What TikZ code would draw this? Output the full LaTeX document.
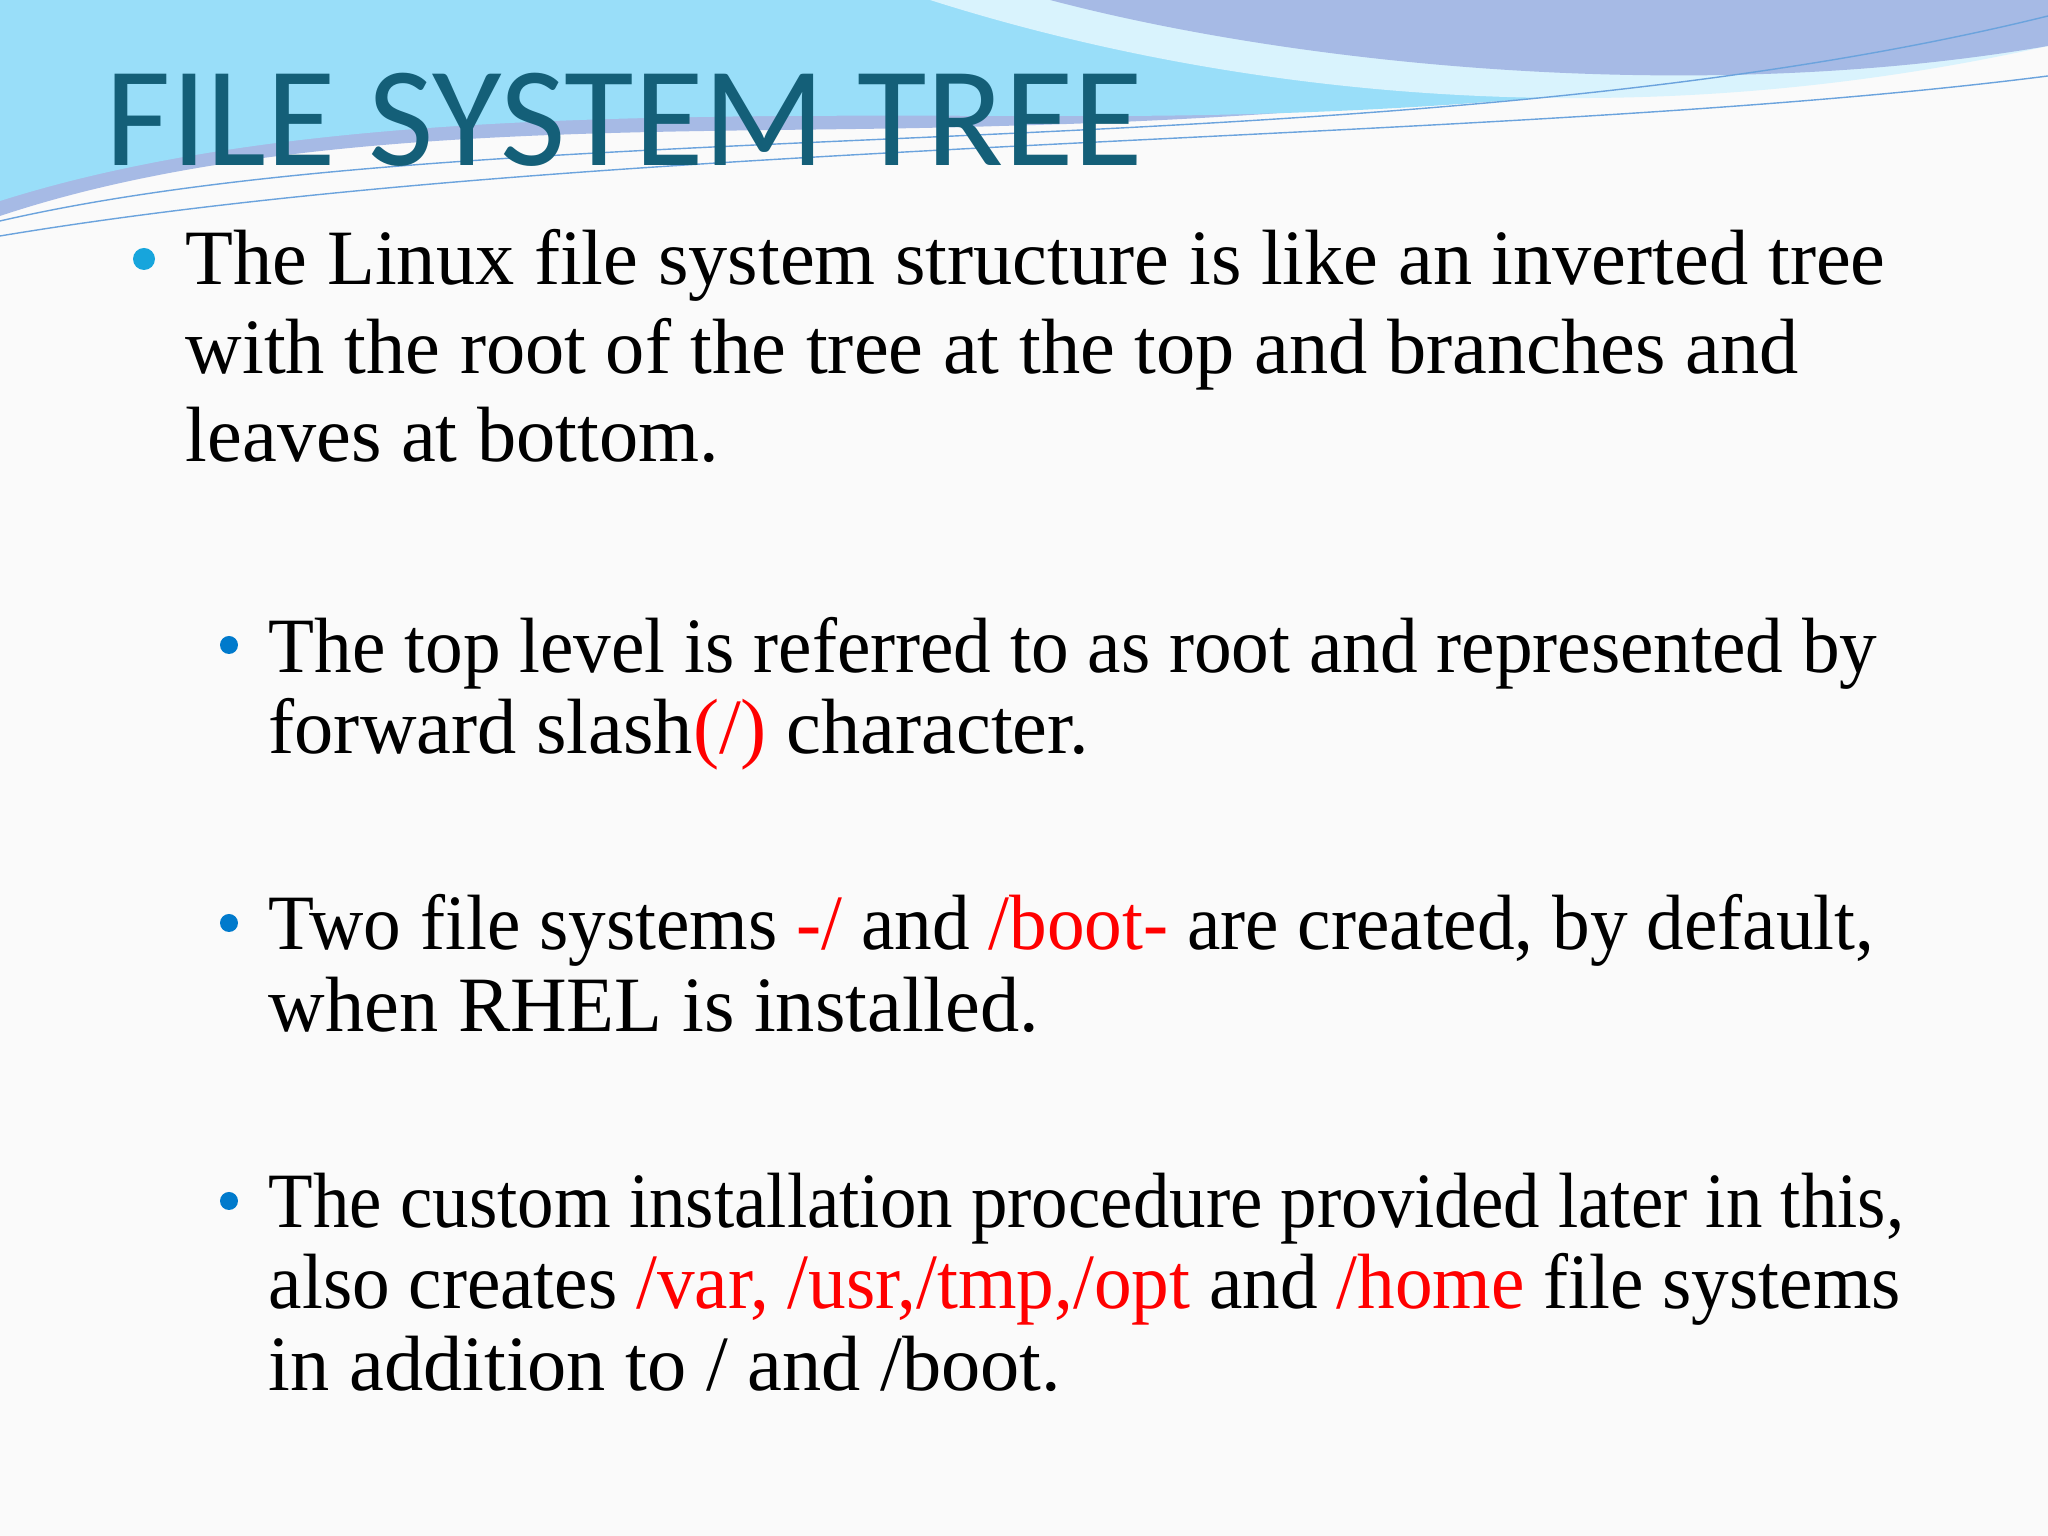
\documentclass[tikz,border=0pt]{standalone}
\usepackage{fontspec}
\usepackage{graphicx}
\setmainfont{Liberation Serif}
\newfontfamily\titlefont{Carlito}
\begin{document}
\begin{tikzpicture}[x=1cm,y=1cm,
  line/.style={anchor=base west,inner sep=0pt,font=\fontsize{22.3}{27}\selectfont}]
\fill[white!96!gray] (0,0) rectangle (20.48,15.36);
\useasboundingbox (0,0) rectangle (20.48,15.36);
% top waves
\fill[cyan!45!blue!35] (0,15.36) -- (0,13.2) .. controls (3,14.2) and (7,14.0) .. (10,14.1) .. controls (14,14.2) and (17,14.6) .. (20.48,15.36) -- cycle;
\fill[cyan!40] (0,13.35) .. controls (3,14.3) and (7,14.2) .. (11,14.2) .. controls (15,14.2) and (18,14.6) .. (20.48,15.2) -- (20.48,15.36) -- (0,15.36) -- cycle;
\fill[cyan!15!white] (9.3,15.36) .. controls (12,14.5) and (16,13.9) .. (20.48,14.9) -- (20.48,15.36) -- cycle;
\fill[cyan!45!blue!35] (10.5,15.36) .. controls (13,14.7) and (17,14.3) .. (20.48,14.9) -- (20.48,15.36) -- cycle;
\draw[cyan!60!blue!60,thin] (0,13.15) .. controls (5,14.3) and (14,13.6) .. (20.48,15.2);
\draw[cyan!60!blue!60,thin] (0,13.0) .. controls (6,14.0) and (15,13.9) .. (20.48,14.6);
\node[anchor=base west,inner sep=0pt,text={rgb,255:red,20;green,95;blue,120},font=\titlefont\fontsize{40.5}{42}\selectfont] (title) at (1.05,13.70) {FILE SYSTEM TREE};
% bullets
\fill[cyan!80!teal] (1.44,12.77) circle (0.11) coordinate (b1);
\fill[blue!40!cyan!80!black] (2.29,8.91) circle (0.09) coordinate (b2);
\fill[blue!40!cyan!80!black] (2.29,6.13) circle (0.09) coordinate (b3);
\fill[blue!40!cyan!80!black] (2.29,3.35) circle (0.09) coordinate (b4);
\node[line] (l1) at (1.85,12.51) {The Linux file system structure is like an inverted tree};
\node[line] (l2) at (1.85,11.62) {with the root of the tree at the top and branches and};
\node[line] (l3) at (1.85,10.74) {leaves at bottom.};
\node[line] (l4) at (2.68,8.63) {\scalebox{0.96}[1]{The top level is referred to as root and represented by}};
\node[line] (l5) at (2.68,7.82) {forward slash\textcolor{red}{(/)} character.};
\node[line] (l6) at (2.68,5.86) {\scalebox{0.96}[1]{Two file systems \textcolor{red}{-/} and \textcolor{red}{/boot-} are created, by default,}};
\node[line] (l7) at (2.68,5.04) {when RHEL is installed.};
\node[line] (l8) at (2.68,3.08) {\scalebox{0.93}[1]{The custom installation procedure provided later in this,}};
\node[line] (l9) at (2.68,2.27) {\scalebox{0.96}[1]{also creates \textcolor{red}{/var, /usr,/tmp,/opt} and \textcolor{red}{/home} file systems}};
\node[line] (l10) at (2.68,1.45) {in addition to / and /boot.};
\end{tikzpicture}
\end{document}
